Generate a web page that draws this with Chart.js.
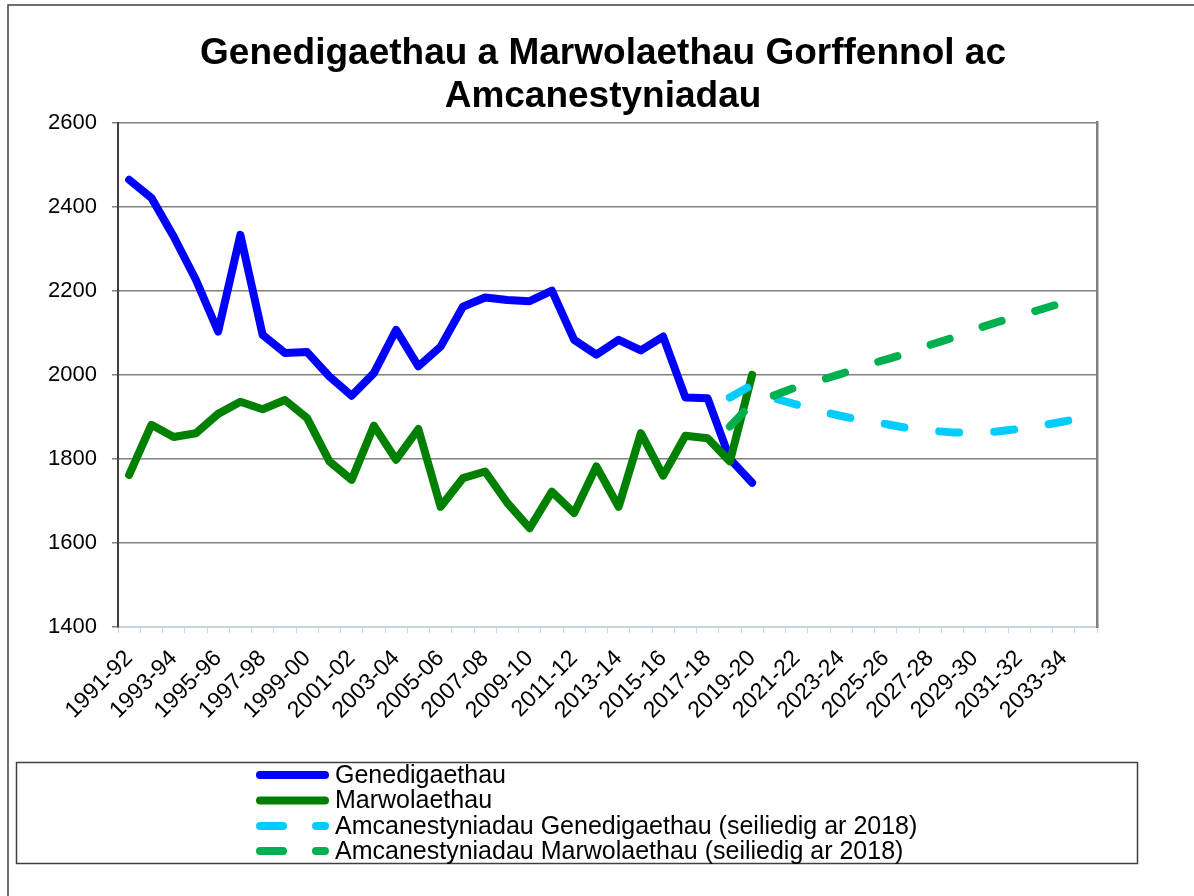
<!DOCTYPE html>
<html>
<head>
<meta charset="utf-8">
<script src="https://cdn.jsdelivr.net/npm/chart.js@4/dist/chart.umd.min.js"></script>
<style>
  html, body { margin: 0; padding: 0; background: #fff; }
  #wrap { position: relative; width: 1194px; height: 896px; }
</style>
</head>
<body>
<div id="wrap"><canvas id="chart" width="1194" height="896"></canvas></div>
<script>
'use strict';

var years = [
    '1991-92', '1992-93', '1993-94', '1994-95', '1995-96', '1996-97', '1997-98', '1998-99',
    '1999-00', '2000-01', '2001-02', '2002-03', '2003-04', '2004-05', '2005-06', '2006-07',
    '2007-08', '2008-09', '2009-10', '2010-11', '2011-12', '2012-13', '2013-14', '2014-15',
    '2015-16', '2016-17', '2017-18', '2018-19', '2019-20', '2020-21', '2021-22', '2022-23',
    '2023-24', '2024-25', '2025-26', '2026-27', '2027-28', '2028-29', '2029-30', '2030-31',
    '2031-32', '2032-33', '2033-34', '2034-35'
];

// 1991-92 .. 2019-20
var births = [2464, 2421, 2329, 2226, 2103, 2333, 2095, 2052, 2054, 1996, 1950, 2004, 2107, 2020, 2067,
    2162, 2184, 2178, 2175, 2200, 2083, 2048, 2083, 2058, 2091, 1946, 1944, 1800, 1743];
var deaths = [1762, 1881, 1852, 1861, 1907, 1936, 1918, 1940, 1897, 1794, 1750, 1879, 1798, 1871, 1686,
    1754, 1770, 1695, 1635, 1722, 1671, 1782, 1686, 1861, 1760, 1855, 1849, 1794, 2000];

// 2018-19 .. 2034-35 (projections based on 2018)
var projStart = 27;
var projBirths = [1946, 1976, 1944, 1929, 1914, 1902, 1891, 1883, 1873, 1867, 1863, 1863, 1865, 1871, 1879, 1889, 1898];
var projDeaths = [1877, 1932, 1951, 1971, 1986, 2002, 2021, 2036, 2052, 2071, 2088, 2108, 2125, 2140, 2156, 2172, 2187];

var yTicks = [1400, 1600, 1800, 2000, 2200, 2400, 2600];

var seriesNames = [
    'Genedigaethau',
    'Marwolaethau',
    'Amcanestyniadau Genedigaethau (seiliedig ar 2018)',
    'Amcanestyniadau Marwolaethau (seiliedig ar 2018)'
];

var FONT = "'Liberation Sans', Arial, sans-serif";
var lead = new Array(projStart).fill(null);

function line(label, data, color, dash, order) {
    return {
        label: label,
        data: data,
        borderColor: color,
        backgroundColor: color,
        borderWidth: 8,
        borderDash: dash,
        borderCapStyle: 'round',
        borderJoinStyle: 'round',
        pointRadius: 0,
        pointHoverRadius: 0,
        tension: 0,
        fill: false,
        spanGaps: false,
        order: order
    };
}

// white page plus the outer frame
var framePlugin = {
    id: 'frame',
    beforeDraw: function (chart) {
        var ctx = chart.ctx;
        ctx.save();
        ctx.fillStyle = '#fff';
        ctx.fillRect(0, 0, chart.width, chart.height);
        ctx.strokeStyle = '#404040';
        ctx.lineWidth = 1.5;
        ctx.strokeRect(8, 5, 1400, 1200);
        ctx.restore();
    }
};

// boxed legend, one entry per row, like the original
var boxLegend = {
    id: 'boxLegend',
    afterDraw: function (chart) {
        var ctx = chart.ctx;
        var rows = [775, 800.5, 826, 851];
        ctx.save();
        ctx.strokeStyle = '#404040';
        ctx.lineWidth = 1.5;
        ctx.strokeRect(16.5, 762.5, 1121, 101);
        chart.data.datasets.forEach(function (ds, i) {
            var y = rows[i];
            ctx.strokeStyle = ds.borderColor;
            ctx.lineWidth = 8;
            ctx.lineCap = 'round';
            ctx.setLineDash(ds.borderDash.length ? [23, 33] : []);
            ctx.beginPath();
            ctx.moveTo(260, y);
            ctx.lineTo(325, y);
            ctx.stroke();
            ctx.setLineDash([]);
            ctx.fillStyle = '#000';
            ctx.font = '25px ' + FONT;
            ctx.textBaseline = 'middle';
            ctx.textAlign = 'left';
            ctx.fillText(ds.label, 335, y + 1);
        });
        ctx.restore();
    }
};

new Chart(document.getElementById('chart'), {
    type: 'line',
    data: {
        labels: years,
        datasets: [
            line(seriesNames[0], births, '#0000ff', [], 3),
            line(seriesNames[1], deaths, '#008000', [], 2),
            line(seriesNames[2], lead.concat(projBirths), '#00ccff', [20, 35], 1),
            line(seriesNames[3], lead.concat(projDeaths), '#00b050', [20, 35], 0)
        ]
    },
    options: {
        responsive: false,
        animation: false,
        layout: { padding: { left: 12, right: 0, top: 0, bottom: 0 } },
        plugins: {
            legend: { display: false },
            tooltip: { enabled: false },
            title: {
                display: true,
                text: ['Genedigaethau a Marwolaethau Gorffennol ac', 'Amcanestyniadau'],
                color: '#000',
                font: { family: FONT, size: 37, weight: 'bold', lineHeight: 1.17 },
                padding: { top: 32, bottom: 4 }
            }
        },
        scales: {
            x: {
                offset: true,
                grid: {
                    offset: true,
                    drawOnChartArea: false,
                    drawTicks: true,
                    tickLength: 6,
                    color: '#c9d7ea'
                },
                border: { color: '#c9d3e0', width: 2 },
                ticks: {
                    autoSkip: false,
                    maxRotation: 45,
                    minRotation: 45,
                    padding: 12,
                    color: '#000',
                    font: { family: FONT, size: 23 },
                    callback: function (value, index) {
                        return index % 2 === 0 ? years[index] : '';
                    }
                },
                afterFit: function (scale) { scale.height = 269; }
            },
            y: {
                min: 1400,
                max: 2600,
                afterBuildTicks: function (scale) {
                    scale.ticks = yTicks.map(function (v) { return { value: v }; });
                },
                grid: { color: '#808080', lineWidth: 1.5, tickLength: 6 },
                border: { color: '#404040', width: 2 },
                ticks: {
                    padding: 15,
                    color: '#000',
                    font: { family: FONT, size: 22 },
                    callback: function (value) { return String(value); }
                },
                afterFit: function (scale) { scale.width = 106; }
            },
            y2: {
                position: 'right',
                min: 1400,
                max: 2600,
                grid: { drawOnChartArea: false, drawTicks: false },
                border: { color: '#808080', width: 2.5 },
                ticks: { display: false },
                afterFit: function (scale) { scale.width = 97; }
            }
        }
    },
    plugins: [framePlugin, boxLegend]
});
</script>
</body>
</html>
